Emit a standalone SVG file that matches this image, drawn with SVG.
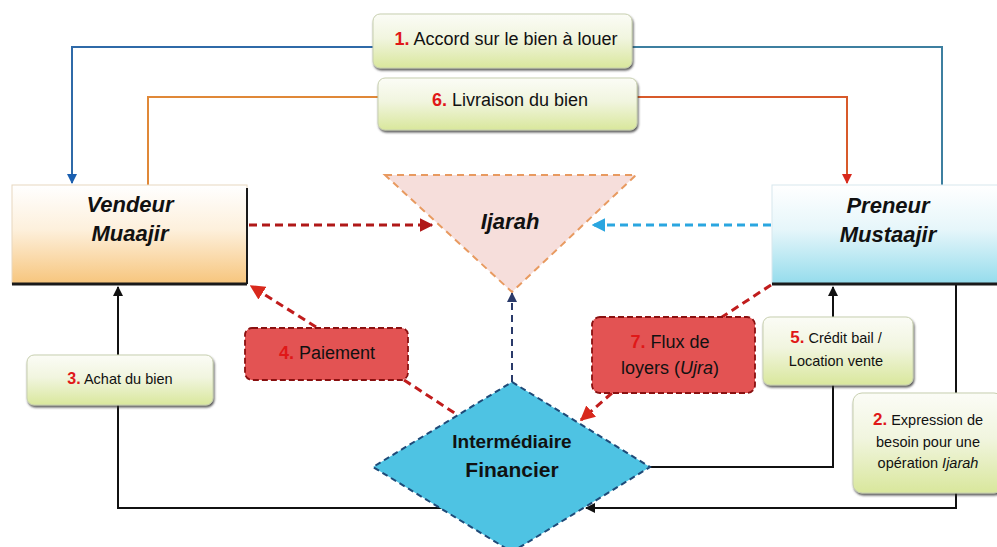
<svg xmlns="http://www.w3.org/2000/svg" width="997" height="547" viewBox="0 0 997 547">
  <defs>
    <linearGradient id="gGreen" x1="0" y1="0" x2="0" y2="1">
      <stop offset="0" stop-color="#fbfcf6"/>
      <stop offset="0.45" stop-color="#f1f5df"/>
      <stop offset="1" stop-color="#d9e79c"/>
    </linearGradient>
    <linearGradient id="gOrange" x1="0" y1="0" x2="0" y2="1">
      <stop offset="0" stop-color="#ffffff"/>
      <stop offset="0.45" stop-color="#fdf0dc"/>
      <stop offset="1" stop-color="#f7c57c"/>
    </linearGradient>
    <linearGradient id="gCyan" x1="0" y1="0" x2="0" y2="1">
      <stop offset="0" stop-color="#ffffff"/>
      <stop offset="0.45" stop-color="#e6f6fa"/>
      <stop offset="1" stop-color="#94dcec"/>
    </linearGradient>
    <marker id="aBlue" viewBox="0 0 10 10" refX="9" refY="5" markerWidth="5" markerHeight="5" orient="auto">
      <path d="M0,0 L10,5 L0,10 z" fill="#1a5fb0"/>
    </marker>
    <marker id="aRed" viewBox="0 0 10 10" refX="9" refY="5" markerWidth="5" markerHeight="5" orient="auto">
      <path d="M0,0 L10,5 L0,10 z" fill="#d8281c"/>
    </marker>
    <marker id="aDarkRed" viewBox="0 0 10 10" refX="9" refY="5" markerWidth="4.5" markerHeight="4.5" orient="auto">
      <path d="M0,0 L10,5 L0,10 z" fill="#b01818"/>
    </marker>
    <marker id="aSky" viewBox="0 0 10 10" refX="9" refY="5" markerWidth="4.5" markerHeight="4.5" orient="auto">
      <path d="M0,0 L10,5 L0,10 z" fill="#2aa6e0"/>
    </marker>
    <marker id="aNavy" viewBox="0 0 10 10" refX="9" refY="5" markerWidth="5" markerHeight="5" orient="auto">
      <path d="M0,0 L10,5 L0,10 z" fill="#2a3a6a"/>
    </marker>
    <marker id="aBlack" viewBox="0 0 10 10" refX="9" refY="5" markerWidth="5" markerHeight="5" orient="auto">
      <path d="M0,0 L10,5 L0,10 z" fill="#111"/>
    </marker>
    <filter id="soft" x="-5%" y="-5%" width="110%" height="120%">
      <feDropShadow dx="1" dy="2" stdDeviation="0.8" flood-color="#333" flood-opacity="0.8"/>
    </filter>
  </defs>
  <style>
    text { font-family: "Liberation Sans", Arial, sans-serif; fill: #111; }
    .lbl { font-size: 18px; }
    .sm { font-size: 14.5px; }
    .num { fill: #e01818; font-weight: bold; }
    .big { font-size: 22px; font-weight: bold; font-style: italic; }
    .green { fill: url(#gGreen); stroke: #c8d0b0; stroke-width: 1; }
    .blackline { fill: none; stroke: #111; stroke-width: 2; }
    .reddash { fill: none; stroke: #c01c1c; stroke-width: 3; stroke-dasharray: 8 5; }
    .redbox { fill: #e35353; stroke: #8a1010; stroke-width: 1.8; stroke-dasharray: 6 3; }
  </style>

  <rect width="997" height="547" fill="#ffffff"/>

  <!-- connectors -->
  <g id="connectors">
    <!-- 1: agreement on the leased asset -->
    <polyline points="373,47 72,47 72,183" fill="none" stroke="#2f6aa8" stroke-width="2" marker-end="url(#aBlue)"/>
    <polyline points="632,47 942,47 942,185" fill="none" stroke="#3d7fa0" stroke-width="2"/>
    <!-- 6: delivery -->
    <polyline points="378,97 148,97 148,185" fill="none" stroke="#e08838" stroke-width="2"/>
    <polyline points="637,97 847,97 847,183" fill="none" stroke="#d85a2a" stroke-width="2" marker-end="url(#aRed)"/>
    <!-- into the Ijarah triangle -->
    <line x1="249" y1="225" x2="432" y2="225" stroke="#b01818" stroke-width="3" stroke-dasharray="8 5" marker-end="url(#aDarkRed)"/>
    <line x1="771" y1="225" x2="593" y2="225" stroke="#2aa6e0" stroke-width="3" stroke-dasharray="8 5" marker-end="url(#aSky)"/>
    <line x1="512" y1="382" x2="512" y2="293" stroke="#2a3a6a" stroke-width="2" stroke-dasharray="7 5" marker-end="url(#aNavy)"/>
    <!-- 4: payment -->
    <line x1="316" y1="327" x2="251" y2="286" class="reddash" marker-end="url(#aRed)"/>
    <line x1="404" y1="380" x2="456" y2="414" class="reddash"/>
    <!-- 7: rent flows -->
    <line x1="771" y1="285" x2="722" y2="317" class="reddash"/>
    <line x1="612" y1="393" x2="581" y2="420" class="reddash" marker-end="url(#aRed)"/>
    <!-- 3: purchase -->
    <line x1="118" y1="355" x2="118" y2="287" class="blackline" marker-end="url(#aBlack)"/>
    <polyline points="118,405 118,508 446,508" class="blackline"/>
    <!-- 5: lease / hire-purchase -->
    <line x1="833" y1="317" x2="833" y2="287" class="blackline" marker-end="url(#aBlack)"/>
    <polyline points="833,385 833,467 650,467" class="blackline"/>
    <!-- 2: expression of need -->
    <polyline points="956,284 956,508 586,508" class="blackline" marker-end="url(#aBlack)"/>
  </g>

  <!-- Ijarah triangle -->
  <g id="ijarah">
    <polygon points="385,175 636,175 512,292" fill="#f6dedb" stroke="#e89a60" stroke-width="2" stroke-dasharray="7 5"/>
    <text x="510" y="229" text-anchor="middle" class="big" font-size="21">Ijarah</text>
  </g>

  <!-- Seller -->
  <g id="vendeur">
    <rect x="12" y="185" width="235" height="99" fill="url(#gOrange)" stroke="#e8d8c0" stroke-width="1"/>
    <line x1="12" y1="284" x2="247" y2="284" stroke="#1a1a1a" stroke-width="3"/>
    <line x1="247" y1="188" x2="247" y2="284" stroke="#1a1a1a" stroke-width="2"/>
    <text x="130" y="212" text-anchor="middle" class="big">Vendeur</text>
    <text x="130" y="241" text-anchor="middle" class="big">Muaajir</text>
  </g>

  <!-- Lessee -->
  <g id="preneur">
    <rect x="772" y="185" width="230" height="99" fill="url(#gCyan)" stroke="#d8e8ee" stroke-width="1"/>
    <line x1="772" y1="284" x2="997" y2="284" stroke="#1a1a1a" stroke-width="3"/>
    <text x="888" y="213" text-anchor="middle" class="big">Preneur</text>
    <text x="888" y="242" text-anchor="middle" class="big">Mustaajir</text>
  </g>

  <!-- Step 1 -->
  <g id="step1">
    <rect x="373" y="14" width="259" height="54" rx="7" class="green" filter="url(#soft)"/>
    <text x="506" y="45" text-anchor="middle" class="lbl"><tspan class="num">1.</tspan>  Accord sur le bien à louer</text>
  </g>

  <!-- Step 6 -->
  <g id="step6">
    <rect x="378" y="78" width="259" height="52" rx="7" class="green" filter="url(#soft)"/>
    <text x="510" y="106" text-anchor="middle" class="lbl"><tspan class="num">6.</tspan>  Livraison du bien</text>
  </g>

  <!-- Step 3 -->
  <g id="step3">
    <rect x="27" y="355" width="186" height="50" rx="7" class="green" filter="url(#soft)"/>
    <text x="120" y="384" text-anchor="middle" class="sm"><tspan class="num" font-size="16">3.</tspan>  Achat du bien</text>
  </g>

  <!-- Step 4 -->
  <g id="step4">
    <rect x="245" y="328" width="163" height="52" rx="7" class="redbox"/>
    <text x="327" y="359" text-anchor="middle" class="lbl" font-size="17"><tspan class="num">4.</tspan> Paiement</text>
  </g>

  <!-- Step 7 -->
  <g id="step7">
    <rect x="592" y="317" width="163" height="76" rx="8" class="redbox"/>
    <text x="670" y="348" text-anchor="middle" class="lbl"><tspan class="num">7.</tspan>  Flux de</text>
    <text x="670" y="374" text-anchor="middle" class="lbl">loyers (<tspan font-style="italic">Ujra</tspan>)</text>
  </g>

  <!-- Step 5 -->
  <g id="step5">
    <rect x="763" y="317" width="150" height="68" rx="7" class="green" filter="url(#soft)"/>
    <text x="836" y="343" text-anchor="middle" class="sm"><tspan class="num" font-size="17">5.</tspan>  Crédit bail /</text>
    <text x="836" y="366" text-anchor="middle" class="sm">Location  vente</text>
  </g>

  <!-- Step 2 -->
  <g id="step2">
    <rect x="853" y="393" width="150" height="100" rx="9" class="green" filter="url(#soft)"/>
    <text x="928" y="425" text-anchor="middle" class="sm"><tspan class="num" font-size="17">2.</tspan>  Expression de</text>
    <text x="928" y="447" text-anchor="middle" class="sm">besoin pour une</text>
    <text x="928" y="468" text-anchor="middle" class="sm">opération <tspan font-style="italic">Ijarah</tspan></text>
  </g>

  <!-- Financial intermediary -->
  <g id="intermediaire">
    <polygon points="512,382 650,467 512,552 373,467" fill="#4ec3e3" stroke="#1e4a78" stroke-width="2" stroke-dasharray="6 4"/>
    <text x="512" y="448" text-anchor="middle" font-size="19" font-weight="bold">Intermédiaire</text>
    <text x="512" y="477" text-anchor="middle" font-size="21" font-weight="bold">Financier</text>
  </g>
</svg>
